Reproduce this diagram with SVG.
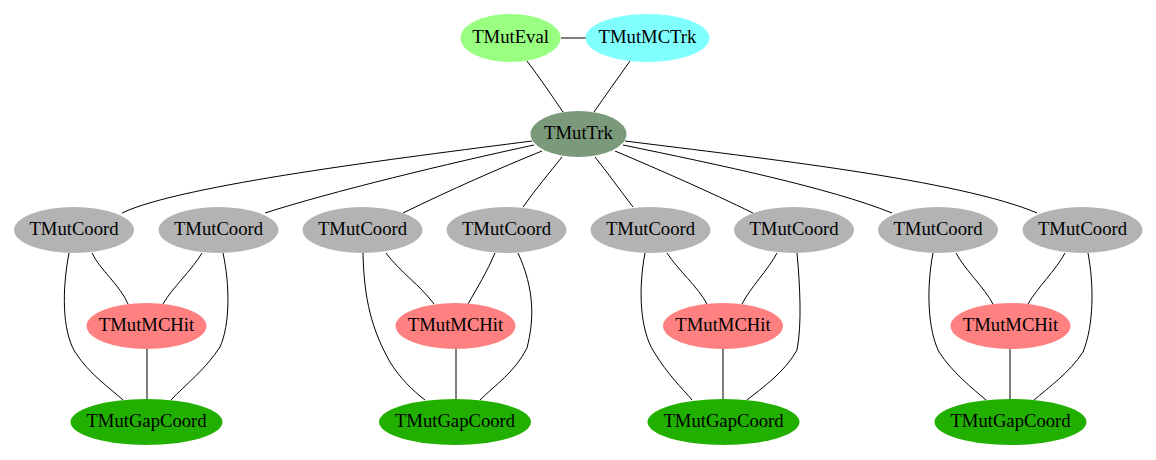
<svg xmlns="http://www.w3.org/2000/svg" width="1156" height="460" viewBox="0 0 1156 460">
<style>
text{font-family:"Liberation Serif","Times New Roman",serif;font-size:18.67px;fill:#000;text-anchor:middle}
.e path,.e line{fill:none;stroke:#000;stroke-width:1}
.coord{fill:#b3b3b3}
.hit{fill:#ff8080}
.gap{fill:#22b000}
</style>
<rect width="1156" height="460" fill="#fff"/>
<g id="edges" class="e">
<line x1="561" y1="38" x2="586" y2="38"/>
<path d="M527,61 C540,78 552,96 563,112"/>
<path d="M630,61 C618,78 605,96 594,112"/>
<path d="M532,141 C400,158 180,185 122,213"/>
<path d="M534,145 C450,163 330,192 265,213"/>
<path d="M542,151 C500,168 450,190 403,213"/>
<path d="M562,157 C550,172 535,190 523,207"/>
<path d="M595,157 C607,172 620,190 633,207"/>
<path d="M615,151 C660,170 710,192 753,213"/>
<path d="M623,145 C720,165 830,188 892,213"/>
<path d="M625,141 C760,158 960,180 1037,213"/>
<path d="M92,253 C100,270 120,285 128,304"/>
<path d="M202,253 C192,270 172,288 163,304"/>
<path d="M69,253 C62,290 62,330 75,352 C90,375 110,388 123,400"/>
<path d="M223,253 C230,285 230,325 220,347 C205,370 185,385 171,400"/>
<line x1="147" y1="349" x2="147" y2="399"/>
<path d="M386,253 C400,272 420,285 434,304"/>
<path d="M495,253 C487,272 477,288 468,304"/>
<path d="M363,253 C364,300 372,330 390,362 C400,378 412,390 425,400"/>
<path d="M518,253 C535,290 534,320 527,348 C515,372 495,385 480,400"/>
<line x1="456" y1="349" x2="456" y2="399"/>
<path d="M667,253 C678,270 698,287 707,304"/>
<path d="M777,253 C768,270 750,288 742,304"/>
<path d="M645,253 C638,290 640,330 654,352 C668,375 682,388 692,400"/>
<path d="M797,253 C800,285 802,325 797,350 C785,372 762,388 747,400"/>
<line x1="723" y1="349" x2="723" y2="399"/>
<path d="M956,253 C965,270 984,287 993,304"/>
<path d="M1065,253 C1056,270 1037,288 1028,304"/>
<path d="M933,253 C926,290 928,330 939,352 C952,372 972,388 986,400"/>
<path d="M1088,253 C1094,285 1094,325 1083,352 C1070,372 1048,388 1034,400"/>
<line x1="1010" y1="349" x2="1010" y2="399"/>
</g>
<g id="TMutEval"><ellipse cx="510.5" cy="38" rx="50" ry="24" fill="#99ff80"/><text x="510.5" y="42.5">TMutEval</text></g>
<g id="TMutMCTrk"><ellipse cx="647.5" cy="38" rx="62" ry="24" fill="#80ffff"/><text x="647.5" y="42.5">TMutMCTrk</text></g>
<g id="TMutTrk"><ellipse cx="578.5" cy="134" rx="48" ry="23" fill="#7b9a7b"/><text x="578.5" y="138.5">TMutTrk</text></g>
<g id="TMutCoord1"><ellipse class="coord" cx="74" cy="230" rx="60" ry="23"/><text x="74" y="234.5">TMutCoord</text></g>
<g id="TMutCoord2"><ellipse class="coord" cx="218.5" cy="230" rx="60" ry="23"/><text x="218.5" y="234.5">TMutCoord</text></g>
<g id="TMutCoord3"><ellipse class="coord" cx="362.5" cy="230" rx="60" ry="23"/><text x="362.5" y="234.5">TMutCoord</text></g>
<g id="TMutCoord4"><ellipse class="coord" cx="506.5" cy="230" rx="60" ry="23"/><text x="506.5" y="234.5">TMutCoord</text></g>
<g id="TMutCoord5"><ellipse class="coord" cx="650.5" cy="230" rx="60" ry="23"/><text x="650.5" y="234.5">TMutCoord</text></g>
<g id="TMutCoord6"><ellipse class="coord" cx="794" cy="230" rx="60" ry="23"/><text x="794" y="234.5">TMutCoord</text></g>
<g id="TMutCoord7"><ellipse class="coord" cx="938" cy="230" rx="60" ry="23"/><text x="938" y="234.5">TMutCoord</text></g>
<g id="TMutCoord8"><ellipse class="coord" cx="1082.5" cy="230" rx="60" ry="23"/><text x="1082.5" y="234.5">TMutCoord</text></g>
<g id="TMutMCHit1"><ellipse class="hit" cx="146.5" cy="326" rx="60" ry="23"/><text x="146.5" y="330.5">TMutMCHit</text></g>
<g id="TMutMCHit2"><ellipse class="hit" cx="455.5" cy="326" rx="60" ry="23"/><text x="455.5" y="330.5">TMutMCHit</text></g>
<g id="TMutMCHit3"><ellipse class="hit" cx="723" cy="326" rx="60" ry="23"/><text x="723" y="330.5">TMutMCHit</text></g>
<g id="TMutMCHit4"><ellipse class="hit" cx="1010.5" cy="326" rx="60" ry="23"/><text x="1010.5" y="330.5">TMutMCHit</text></g>
<g id="TMutGapCoord1"><ellipse class="gap" cx="146.5" cy="422" rx="76" ry="23"/><text x="146.5" y="426.5">TMutGapCoord</text></g>
<g id="TMutGapCoord2"><ellipse class="gap" cx="455" cy="422" rx="76" ry="23"/><text x="455" y="426.5">TMutGapCoord</text></g>
<g id="TMutGapCoord3"><ellipse class="gap" cx="723.5" cy="422" rx="76" ry="23"/><text x="723.5" y="426.5">TMutGapCoord</text></g>
<g id="TMutGapCoord4"><ellipse class="gap" cx="1010.5" cy="422" rx="76" ry="23"/><text x="1010.5" y="426.5">TMutGapCoord</text></g>
</svg>
